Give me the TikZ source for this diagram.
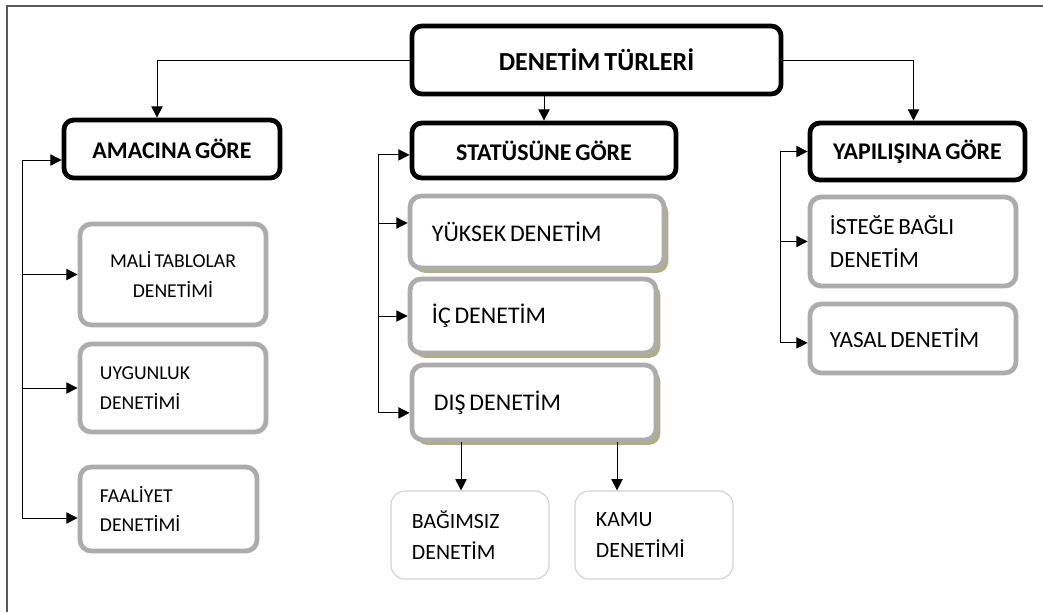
\documentclass[tikz,border=0pt]{standalone}
\usepackage{fontspec}
\setmainfont{Carlito}[WordSpace=0.7]
\usetikzlibrary{arrows.meta,positioning,shadows}

\begin{document}
\begin{tikzpicture}[x=0.025cm,y=-0.025cm,
  head/.style={draw,fill=white,line width=3.4pt,rounded corners=7pt,align=center,font=\fontsize{17}{20}\selectfont\bfseries},
  sub/.style={draw=gray!65,fill=white,line width=3.4pt,rounded corners=8pt,align=flush left,inner xsep=0.5cm,font=\fontsize{14}{21}\selectfont},
  mid/.style={sub,inner xsep=0.55cm,font=\fontsize{17}{20}\selectfont,drop shadow={shadow xshift=3pt,shadow yshift=-3.5pt,fill=olive!45!gray,opacity=.7}},
  rsub/.style={sub,font=\fontsize{16.5}{24}\selectfont},
  leaf/.style={draw=gray!35,fill=white,line width=0.8pt,rounded corners=10pt,align=flush left,inner xsep=0.525cm,font=\fontsize{15.5}{22}\selectfont},
  arr/.style={-{Triangle[length=8pt,width=8pt]},line width=0.7pt}]
\useasboundingbox (0,0) rectangle (1043,612);
\draw[gray!70!black,line width=0.8pt] (7,612) -- (7,6) -- (1043,6);

% top level
\node[head,minimum width=9.225cm,minimum height=1.7cm,font=\fontsize{18.5}{22}\selectfont\bfseries] (root) at (596.5,60) {DENETİM TÜRLERİ};
\node[head,minimum width=5.4cm,minimum height=1.45cm] (amac) at (172,149) {AMACINA GÖRE};
\node[head,minimum width=6.6cm,minimum height=1.375cm] (stat) at (544,150.5) {STATÜSÜNE GÖRE};
\node[head,minimum width=5.375cm,minimum height=1.425cm] (yap) at (917.5,151.5) {YAPILIŞINA GÖRE};

% left column
\node[sub,align=flush center,text width=3.65cm,minimum height=2.525cm] (mali) at (173,274.5) {MALİ TABLOLAR\\DENETİMİ};
\node[sub,text width=3.65cm,minimum height=2.2cm] (uyg) at (173,388) {UYGUNLUK\\DENETİMİ};
\node[sub,text width=3.425cm,minimum height=2.1cm] (faal) at (168.5,509) {FAALİYET\\DENETİMİ};

% middle column
\node[mid,text width=5.25cm,minimum height=1.8cm] (yuk) at (537,232) {YÜKSEK DENETİM};
\node[mid,text width=5.05cm,minimum height=1.85cm] (ic) at (533,316) {İÇ DENETİM};
\node[mid,text width=5.0cm,minimum height=1.875cm] (dis) at (534,402.5) {DIŞ DENETİM};
\node[leaf,text width=2.9cm,minimum height=2.2cm] (bag) at (470,535) {BAĞIMSIZ\\DENETİM};
\node[leaf,text width=2.9cm,minimum height=2.2cm] (kamu) at (654,535) {KAMU\\DENETİMİ};

% right column
\node[rsub,text width=4.15cm,minimum height=2.225cm] (ist) at (913,241.5) {İSTEĞE BAĞLI\\DENETİM};
\node[rsub,text width=4.15cm,minimum height=1.725cm] (yas) at (913,338.5) {YASAL DENETİM};

% from the root
\draw[arr] (root.west) -| ([xshift=-0.375cm]amac.north);
\draw[arr] (stat.north |- root.south) -- (stat.north);
\draw[arr] (root.east) -| ([xshift=-0.1cm]yap.north);

% left bus
\coordinate (busA) at (22,0);
\path ([yshift=-0.275cm]amac.west) coordinate (amacIn)
      ([yshift=-0.225cm]faal.west) coordinate (faalIn);
\draw[arr] (busA |- amacIn) -- (amacIn);
\draw[arr] (busA |- amacIn) |- (faalIn);
\draw[arr] (busA |- mali.west) -- (mali.west);
\draw[arr] (busA |- uyg.west) -- (uyg.west);

% middle bus
\coordinate (busB) at (378,0);
\path ([yshift=-0.11cm]stat.west) coordinate (statIn)
      ([yshift=0.225cm]yuk.west) coordinate (yukIn)
      ([yshift=-0.26cm]dis.west) coordinate (disIn);
\draw[arr] (busB |- statIn) -- (statIn);
\draw[arr] (busB |- statIn) |- (disIn);
\draw[arr] (busB |- yukIn) -- (yukIn);
\draw[arr] (busB |- ic.west) -- (ic.west);
\path ([xshift=-0.225cm]bag.north) coordinate (bagIn)
      ([xshift=-0.925cm]kamu.north) coordinate (kamuIn);
\draw[arr] (bagIn |- dis.south) -- (bagIn);
\draw[arr] (kamuIn |- dis.south) -- (kamuIn);

% right bus
\coordinate (busC) at (780,0);
\path ([yshift=-0.11cm]yas.west) coordinate (yasIn);
\draw[arr] (busC |- yap.west) -- (yap.west);
\draw[arr] (busC |- yap.west) |- (yasIn);
\draw[arr] (busC |- ist.west) -- (ist.west);
\end{tikzpicture}
\end{document}
